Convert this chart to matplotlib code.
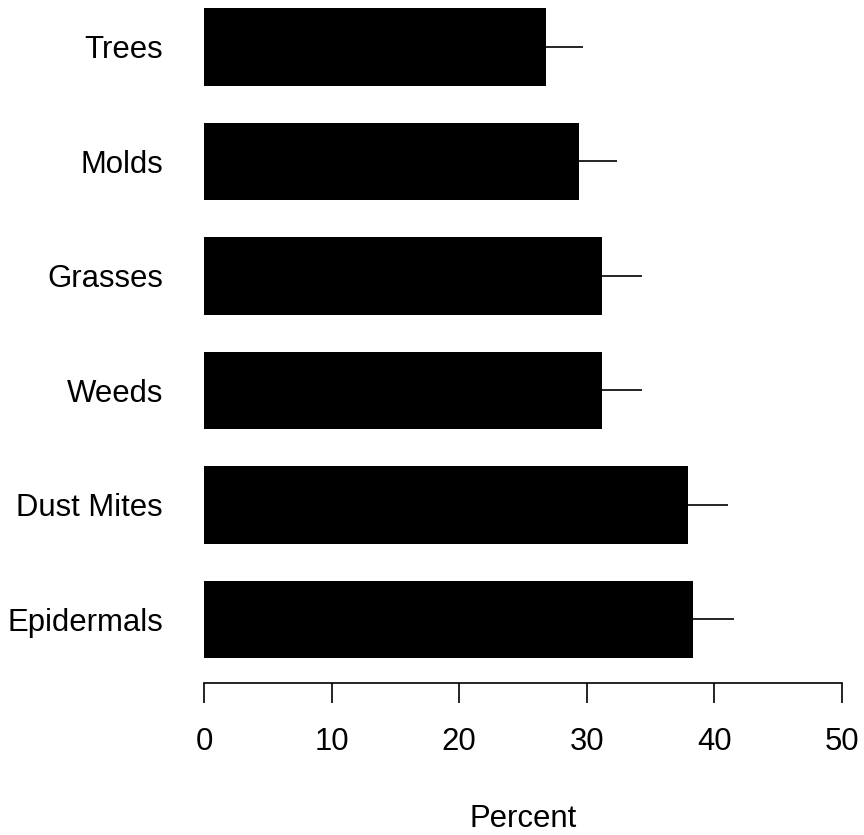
import matplotlib
matplotlib.use("Agg")
import matplotlib.pyplot as plt

# Allergen categories, bottom to top
categories = ["Epidermals", "Dust Mites", "Weeds", "Grasses", "Molds", "Trees"]
percent = [38.3, 37.9, 31.2, 31.2, 29.4, 26.8]
error = [3.2, 3.2, 3.1, 3.1, 3.0, 2.9]
xticks = [0, 10, 20, 30, 40, 50]

plt.rcParams["font.family"] = ["Liberation Sans", "DejaVu Sans"]
FS = 22.4

W, H = 864, 835
fig = plt.figure(figsize=(W / 100, H / 100), dpi=100)
ax = fig.add_axes([204 / W, (H - 683) / H, 638 / W, 683 / H])

ypos = list(range(len(categories)))
ax.barh(ypos, percent, height=0.68, color="black", edgecolor="none")
ax.errorbar(percent, ypos, xerr=[[0] * len(error), error], fmt="none",
            ecolor="black", elinewidth=1.2, capsize=0)

ax.set_xlim(0, 50)
ax.set_ylim(-0.555, 5.41)
ax.set_yticks(ypos)
ax.set_yticklabels(categories, fontsize=FS)
ax.set_xticks(xticks)
ax.set_xticklabels([str(t) for t in xticks], fontsize=FS)

for side in ("left", "right", "top"):
    ax.spines[side].set_visible(False)
ax.spines["bottom"].set_linewidth(1.2)
ax.spines["bottom"].set_bounds(0, 50)
ax.tick_params(axis="y", length=0, pad=29.5)
ax.tick_params(axis="x", length=14.4, width=1.2, pad=17.5)

ax.set_xlabel("Percent", fontsize=FS, labelpad=33.5)

fig.savefig("out.png", dpi=100)
